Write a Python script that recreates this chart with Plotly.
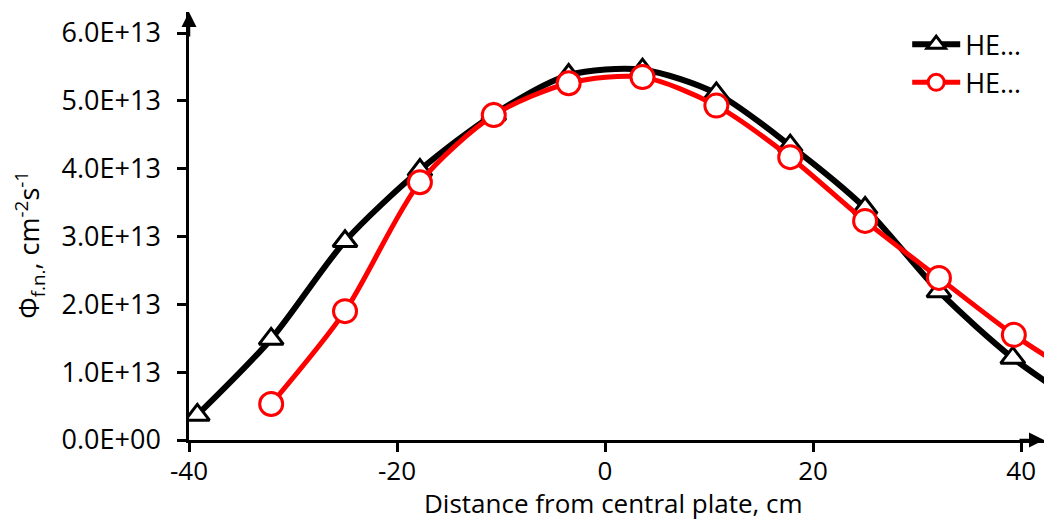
import plotly.graph_objects as go

# Data
x_black = [-39.2, -32.1, -25.0, -17.8, -10.7, -3.5, 3.6, 10.7, 17.8, 25.0, 32.1, 39.2, 46.4]
y_black = [0.37e13, 1.49e13, 2.93e13, 3.98e13, 4.80e13, 5.38e13, 5.46e13, 5.11e13, 4.34e13, 3.42e13, 2.19e13, 1.21e13, 0.45e13]

x_red = [-32.1, -25.0, -17.8, -10.7, -3.5, 3.6, 10.7, 17.8, 25.0, 32.1, 39.3, 46.4]
y_red = [0.53e13, 1.90e13, 3.80e13, 4.79e13, 5.26e13, 5.35e13, 4.93e13, 4.17e13, 3.23e13, 2.39e13, 1.55e13, 0.85e13]

series_names = ["HE…", "HE…"]

x_ticks = [-40, -20, 0, 20, 40]
x_ticktext = ["-40", "-20", "0", "20", "40"]
y_ticks = [0, 1e13, 2e13, 3e13, 4e13, 5e13, 6e13]
y_ticktext = ["0.0E+00", "1.0E+13", "2.0E+13", "3.0E+13", "4.0E+13", "5.0E+13", "6.0E+13"]

x_title = "Distance from central plate, cm"
y_title = "Φ<sub>f.n.</sub>, cm<sup>-2</sup>s<sup>-1</sup>"

X_MIN, X_MAX = -40, 42.2
Y_MIN, Y_MAX = 0, 6.31e13

FONT = "Open Sans"
FS = 27

fig = go.Figure()
fig.add_trace(go.Scatter(
    x=x_black, y=y_black, name=series_names[0], mode="lines+markers",
    line=dict(color="black", width=6, shape="spline", smoothing=0.8),
    marker=dict(symbol="triangle-up", size=21, color="white",
                line=dict(color="black", width=3)),
))
fig.add_trace(go.Scatter(
    x=x_red, y=y_red, name=series_names[1], mode="lines+markers",
    line=dict(color="#ff0000", width=5, shape="spline", smoothing=0.8),
    marker=dict(symbol="circle", size=23, color="white",
                line=dict(color="#ff0000", width=3)),
))

axis_common = dict(
    showline=True, linecolor="black", linewidth=2.5,
    ticks="outside", ticklen=9, tickwidth=2.5, tickcolor="black",
    showgrid=False, zeroline=False, automargin=False,
)

fig.update_layout(
    width=1044, height=521,
    margin=dict(l=189, r=0, t=12, b=81),
    paper_bgcolor="white", plot_bgcolor="white",
    font=dict(family=FONT, size=FS, color="black"),
    xaxis=dict(
        range=[X_MIN, X_MAX], tickvals=x_ticks, ticktext=x_ticktext,
        ticklabelstandoff=-3,
        tickfont=dict(family=FONT, size=26, color="black"),
        **axis_common,
    ),
    yaxis=dict(
        range=[Y_MIN, Y_MAX], tickvals=y_ticks, ticktext=y_ticktext,
        ticklabelstandoff=11,
        tickfont=dict(family=FONT, size=FS, color="black"),
        **axis_common,
    ),
    legend=dict(
        x=0.84, xanchor="left", y=0.981, yanchor="top",
        font=dict(family=FONT, size=FS, color="black"),
        bgcolor="rgba(0,0,0,0)", tracegroupgap=0, itemwidth=48,
    ),
    showlegend=True,
)

# Axis titles
fig.add_annotation(text=x_title, xref="paper", yref="paper",
                   x=0.496, y=-0.1472, xanchor="center", yanchor="middle",
                   showarrow=False, font=dict(family=FONT, size=26, color="black"))
fig.add_annotation(text=y_title, xref="paper", yref="paper",
                   x=0, xshift=-159, y=0.456, xanchor="center", yanchor="middle",
                   textangle=-90, showarrow=False,
                   font=dict(family=FONT, size=FS, color="black"))

# Axis arrows
fig.add_annotation(x=X_MIN, y=Y_MAX, xref="x", yref="y", ax=0, ay=26,
                   showarrow=True, arrowhead=2, arrowsize=1.2, arrowwidth=2.5,
                   arrowcolor="black", text="")
fig.add_annotation(x=X_MAX, y=Y_MIN, xref="x", yref="y", ax=-26, ay=0,
                   showarrow=True, arrowhead=2, arrowsize=1.2, arrowwidth=2.5,
                   arrowcolor="black", text="")

fig.write_html("out.html", config={"displayModeBar": False},
               post_script="document.body.style.margin='0';")
